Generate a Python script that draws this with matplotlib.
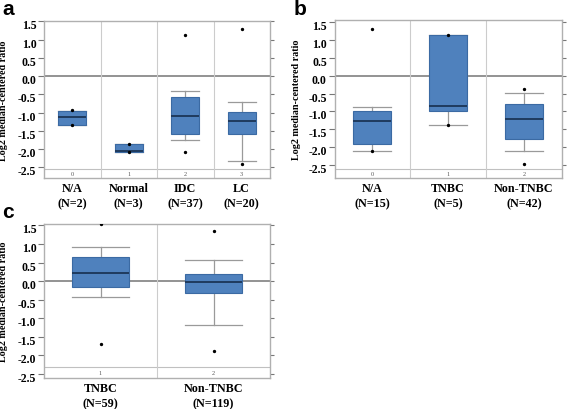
import matplotlib
matplotlib.use("Agg")
import matplotlib.pyplot as plt
from matplotlib.transforms import ScaledTranslation

# ---------------- data ----------------
a_labels = ['N/A', 'Normal', 'IDC', 'LC']
a_n = [2, 3, 37, 20]
a_idx = ['0', '1', '2', '3']
a_q1 = [-1.34, -2.07, -1.58, -1.58]
a_med = [-1.13, -2.06, -1.09, -1.22]
a_q3 = [-0.95, -1.86, -0.56, -0.99]
a_lo = [-1.34, -2.07, -1.76, -2.32]
a_hi = [-0.95, -1.86, -0.41, -0.70]
a_fliers = [[-0.93, -1.35], [-1.86, -2.09], [1.14, -2.09], [1.29, -2.40]]

b_labels = ['N/A', 'TNBC', 'Non-TNBC']
b_n = [15, 5, 42]
b_idx = ['0', '1', '2']
b_q1 = [-1.92, -0.98, -1.78]
b_med = [-1.28, -0.84, -1.22]
b_q3 = [-0.98, 1.15, -0.78]
b_lo = [-2.12, -1.38, -2.11]
b_hi = [-0.87, 1.15, -0.49]
b_fliers = [[1.31, -2.12], [1.15, -1.38], [-0.37, -2.46]]

c_labels = ['TNBC', 'Non-TNBC']
c_n = [59, 119]
c_idx = ['1', '2']
c_q1 = [-0.15, -0.33]
c_med = [0.22, -0.03]
c_q3 = [0.66, 0.20]
c_lo = [-0.44, -1.18]
c_hi = [0.92, 0.58]
c_fliers = [[1.54, -1.69], [1.34, -1.88]]

yticks = [1.5, 1.0, 0.5, 0.0, -0.5, -1.0, -1.5, -2.0, -2.5]

W, H = 567, 410
fig = plt.figure(figsize=(W / 100, H / 100), dpi=100)

SERIF = 'Liberation Serif'
BOX_FC = '#4f81bd'
BOX_EC = '#3b6aa3'
MED_C = '#1c3557'
WHIS_C = '#9a9a9a'
SPINE_C = '#b0b0b0'


def add_ax(l, t, r, b):
    return fig.add_axes([l / W, 1 - b / H, (r - l) / W, (b - t) / H])


def panel(ax, box, labels, ns, idx, q1, med, q3, lo, hi, fliers, ylim, base, letter, lx, ly, ylab_px):
    n = len(labels)
    stats = []
    for i in range(n):
        stats.append(dict(med=med[i], q1=q1[i], q3=q3[i], whislo=lo[i], whishi=hi[i],
                          fliers=fliers[i]))
    ax.bxp(stats, positions=list(range(n)), widths=0.5, patch_artist=True,
           showfliers=True,
           boxprops=dict(facecolor=BOX_FC, edgecolor=BOX_EC, linewidth=0.8, zorder=3),
           medianprops=dict(color=MED_C, linewidth=1.3, zorder=4),
           whiskerprops=dict(color=WHIS_C, linewidth=0.9, zorder=2),
           capprops=dict(color=WHIS_C, linewidth=0.9, zorder=2),
           capwidths=0.5,
           flierprops=dict(marker='o', markersize=1.4, markerfacecolor='black',
                           markeredgecolor='black', linestyle='none', zorder=5))
    ax.set_xlim(-0.5, n - 0.5)
    ax.set_ylim(*ylim)
    ax.axhline(0, color='#8a8a8a', linewidth=1.3, zorder=1)
    ax.axhline(base, color='#c0c0c0', linewidth=0.8, zorder=1)
    for i in range(n - 1):
        ax.axvline(i + 0.5, color='#cccccc', linewidth=0.8, zorder=1)
    for i in range(n):
        ax.text(i, (base + ylim[0]) / 2, idx[i], ha='center', va='center',
                fontsize=4.5, color='#555555', family=SERIF)
    ax.set_xticks(list(range(n)))
    ax.set_xticklabels([f"{lab}\n(N={k})" for lab, k in zip(labels, ns)],
                       family=SERIF, fontweight='bold', fontsize=8.7, linespacing=1.35)
    ax.tick_params(axis='x', length=0, pad=3)
    ax.set_yticks(yticks)
    ax.set_yticklabels([f"{v:.1f}" for v in yticks], family=SERIF, fontweight='bold',
                       fontsize=8.5)
    ax.tick_params(axis='y', left=True, right=True, length=4, width=0.8,
                   color='#777777', pad=1.5, direction='out')
    for t in ax.yaxis.get_major_ticks():
        t.tick2line.set_color('#cfcfcf')
        t.tick2line.set_markersize(3)
    off = ScaledTranslation(0, -2.5 / 100, fig.dpi_scale_trans)
    for lab in ax.get_yticklabels():
        lab.set_transform(lab.get_transform() + off)
    for s in ax.spines.values():
        s.set_color(SPINE_C)
        s.set_linewidth(1.0)
    ax.set_ylabel('Log2 median-centered ratio', family=SERIF, fontweight='bold', fontsize=7.3)
    l, r = box[0], box[2]
    ax.yaxis.set_label_coords((ylab_px - l) / (r - l), 0.5)
    fig.text(lx / W, 1 - ly / H, letter, family='Liberation Sans', fontweight='bold',
             fontsize=15, ha='left', va='top')


box_a = (44, 21.7, 270, 179)
ax_a = add_ax(*box_a)
panel(ax_a, box_a, a_labels, a_n, a_idx, a_q1, a_med, a_q3, a_lo, a_hi, a_fliers,
      (-2.79, 1.52), -2.53, 'a', 2, 0, 8)

box_b = (334.5, 21, 561.7, 178.5)
ax_b = add_ax(*box_b)
panel(ax_b, box_b, b_labels, b_n, b_idx, b_q1, b_med, b_q3, b_lo, b_hi, b_fliers,
      (-2.85, 1.56), -2.6, 'b', 294, 0, 301)

box_c = (44, 225, 270, 379)
ax_c = add_ax(*box_c)
panel(ax_c, box_c, c_labels, c_n, c_idx, c_q1, c_med, c_q3, c_lo, c_hi, c_fliers,
      (-2.61, 1.54), -2.32, 'c', 2, 203, 8)

fig.savefig('out.png', dpi=100)
